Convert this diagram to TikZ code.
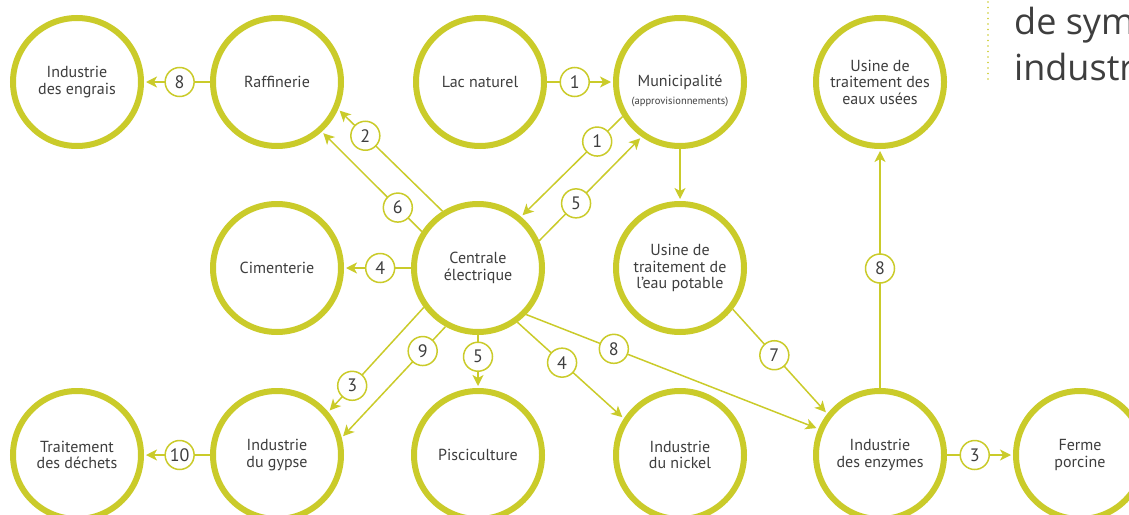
\documentclass[tikz,border=0pt]{standalone}
\usepackage{fontspec}
\setmainfont{PT Sans}
\newfontfamily\titlefont{Open Sans}
\usetikzlibrary{arrows.meta}
\definecolor{lime}{RGB}{202,203,42}
\definecolor{ink}{RGB}{62,62,62}

\begin{document}
\begin{tikzpicture}[x=1pt, y=-1pt,
		site/.style={circle, draw=lime, line width=6pt, fill=white, minimum size=128pt, inner sep=0pt, text=ink, align=center, font=\fontsize{16}{16.5}\selectfont},
		flow/.style={draw=lime, line width=1.5pt, -{Stealth[length=11pt, width=11pt, inset=3pt]}, shorten >=2pt},
		num/.style={circle, draw=lime, line width=1.5pt, fill=white, minimum size=29pt, inner sep=0pt, text=ink, font=\fontsize{18}{18}\selectfont}]
			\useasboundingbox (0,0) rectangle (1129,514);
			% title, cut at the right edge
			\draw[lime, line width=1.6pt, line cap=round, dash pattern=on 0pt off 5.5pt] (988,2) -- (988,80);
			\node[anchor=base west, text=ink, font=\titlefont\fontsize{36}{40}\selectfont, inner sep=0pt] (title1) at (1014,34) {de sym};
			\node[anchor=base west, text=ink, font=\titlefont\fontsize{36}{40}\selectfont, inner sep=0pt] (title2) at (1014,80) {industr};
			% top row
			\node[site] (engrais) at (77,82) {Industrie\\des engrais};
			\node[site] (raff) at (277,82) {Raffinerie};
			\node[site] (lac) at (480,82) {Lac naturel};
			\node[site] (muni) at (680,82) {Municipalité};
			\node[text=ink, font=\fontsize{10.5}{11}\selectfont, inner sep=0pt] (muniSub) at (680,102) {(approvisionnements)};
			\node[site] (eaux) at (880,82) {Usine de\\traitement des\\eaux usées};
			% middle row
			\node[site] (ciment) at (277,268) {Cimenterie};
			\node[site] (centrale) at (478,268) {Centrale\\électrique};
			\node[site] (potable) at (680,268) {Usine de\\traitement de\\l'eau potable};
			% bottom row
			\node[site] (dechets) at (77,455) {Traitement\\des déchets};
			\node[site] (gypse) at (277,455) {Industrie\\du gypse};
			\node[site] (pisci) at (478,455) {Pisciculture};
			\node[site] (nickel) at (680,455) {Industrie\\du nickel};
			\node[site] (enzymes) at (880,455) {Industrie\\des enzymes};
			\node[site] (ferme) at (1080,455) {Ferme\\porcine};
			% exchanges
			\draw[flow] (raff) -- node[num, pos=0.46]{8} (engrais);
			\draw[flow] (lac) -- node[num, pos=0.42]{1} (muni);
			\draw[flow] (muni.211) -- node[num, pos=0.25]{1} (centrale.50);
			\draw[flow] (centrale.24) -- node[num, pos=0.36]{5} (muni.235);
			\draw[flow] (centrale.122) -- node[num, pos=0.74]{2} (raff.336);
			\draw[flow] (centrale.147) -- node[num, pos=0.24]{6} (raff.312);
			\draw[flow] (centrale) -- node[num, pos=0.46]{4} (ciment);
			\draw[flow] (muni.south) -- (potable.north);
			\draw[flow] (potable.322) -- node[num, pos=0.44]{7} (enzymes.142);
			\draw[flow] (centrale.316) -- node[num, pos=0.30]{8} (enzymes.157);
			\draw[flow] (centrale.306) -- node[num, pos=0.42]{4} (nickel.147);
			\draw[flow] (centrale.south) -- node[num, pos=0.41]{5} (pisci.north);
			\draw[flow] (centrale.216) -- node[num, pos=0.75]{3} (gypse.40);
			\draw[flow] (centrale.241) -- node[num, pos=0.22]{9} (gypse.15);
			\draw[flow] (gypse) -- node[num, pos=0.46]{10} (dechets);
			\draw[flow] (enzymes.north) -- node[num, pos=0.5]{8} (eaux.south);
			\draw[flow] (enzymes) -- node[num, pos=0.42]{3} (ferme);
		\end{tikzpicture}
\end{document}
